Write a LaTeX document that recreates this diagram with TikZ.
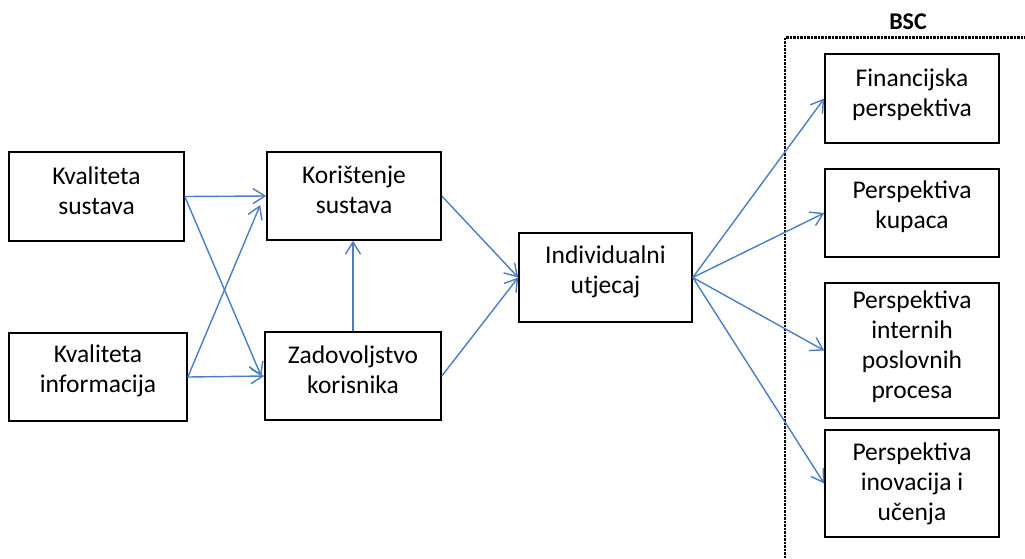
\documentclass[tikz,border=0pt]{standalone}
\usepackage{fontspec}
\setmainfont{Carlito}
\usetikzlibrary{arrows.meta}
\definecolor{arrblue}{HTML}{4A7EC0}
\tikzset{
  box/.style={draw=black, line width=1.6pt, minimum width=#1, inner sep=0pt},
  box/.default=174pt,
  txt/.style={align=center, inner sep=0pt, font=\fontsize{25.5}{30}\selectfont},
  conn/.style={draw=arrblue, line width=1.4pt, -{Straight Barb[length=12pt,width=15pt,line width=1.4pt]}},
}
\begin{document}
\begin{tikzpicture}[x=1pt,y=-1pt]
\useasboundingbox (0,0) rectangle (1025,558);
% BSC frame
\draw[line width=2.6pt, dash pattern=on 2.5pt off 1pt] (1030,37.5) -- (785,37.5) -- (785,565);
\node[font=\fontsize{24}{28}\selectfont\bfseries] (bsc) at (908,22) {BSC};
% nodes
\node[box=175pt, minimum height=89pt, label={[txt,yshift=6pt]center:Kvaliteta\\sustava}] (ks) at (96.5,196.5) {};
\node[box=178pt, minimum height=88pt, label={[txt,yshift=6pt]center:Kvaliteta\\informacija}] (ki) at (98,377) {};
\node[box=174pt, minimum height=88pt, label={[txt,yshift=6pt]center:Korištenje\\sustava}] (kor) at (354,196) {};
\node[box=176pt, minimum height=88pt, label={[txt,yshift=6pt]center:Zadovoljstvo\\korisnika}] (zad) at (353,376) {};
\node[box=173pt, minimum height=89pt, label={[txt,yshift=6pt]center:Individualni\\utjecaj}] (ind) at (605.5,277.5) {};
\node[box, minimum height=89pt, label={[txt,yshift=3.5pt]center:Financijska\\perspektiva}] (fin) at (912,98.5) {};
\node[box, minimum height=88pt, label={[txt,yshift=6pt]center:Perspektiva\\kupaca}] (kup) at (912,213) {};
\node[box, minimum height=135pt, label={[txt,yshift=3.5pt]center:Perspektiva\\internih\\poslovnih\\procesa}] (int) at (912,350.5) {};
\node[box, minimum height=107pt, label={[txt,yshift=0pt]center:Perspektiva\\inovacija i\\učenja}] (ino) at (912,483.5) {};
% connectors
\draw[conn] (ks.east) -- (kor.west);
\draw[conn] (ks.east) -- ([shift={(-3pt,0pt)}]zad.west);
\draw[conn] (ki.east) -- ([shift={(-6pt,-9pt)}]kor.west);
\draw[conn] (ki.east) -- (zad.west);
\draw[conn] (zad.north) -- (zad.north |- kor.south);
\draw[conn] (kor.east) -- (ind.west);
\draw[conn] (zad.east) -- (ind.west);
\draw[conn] (ind.east) -- (fin.west);
\draw[conn] (ind.east) -- (kup.west);
\draw[conn] (ind.east) -- (int.west);
\draw[conn] (ind.east) -- (ino.west);
\end{tikzpicture}
\end{document}
